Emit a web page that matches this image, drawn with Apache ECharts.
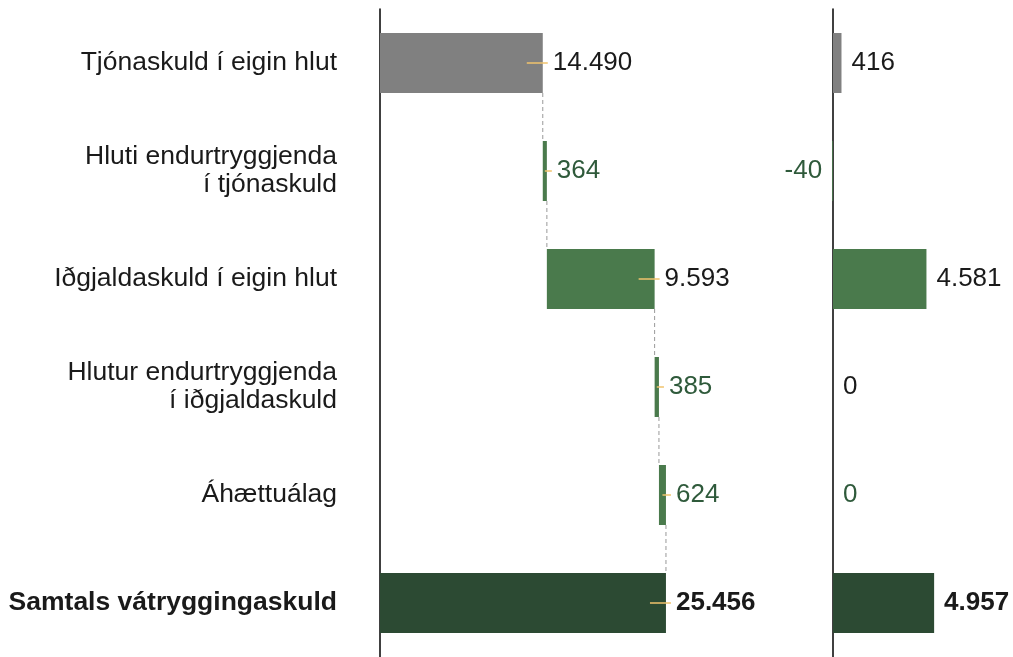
<!DOCTYPE html>
<html>
<head>
<meta charset="utf-8">
<script src="https://cdn.jsdelivr.net/npm/echarts@6/dist/echarts.min.js"></script>
<style>
  html, body { margin: 0; padding: 0; background: #fff; }
  #chart { width: 1013px; height: 657px; }
</style>
</head>
<body>
<div id="chart"></div>
<script>
// data
var categories = [
  'Tjónaskuld í eigin hlut',
  'Hluti endurtryggjenda\ní tjónaskuld',
  'Iðgjaldaskuld í eigin hlut',
  'Hlutur endurtryggjenda\ní iðgjaldaskuld',
  'Áhættuálag',
  'Samtals vátryggingaskuld'
];
var leftValues = [14490, 364, 9593, 385, 624, 25456];
var rightValues = [416, -40, 4581, 0, 0, 4957];

// styles
var barColors = ['#808080', '#4a7a4c', '#4a7a4c', '#4a7a4c', '#4a7a4c', '#2c4a33'];
var leftLabelColors = ['#1a1a1a', '#2f5a3b', '#1a1a1a', '#2f5a3b', '#2f5a3b', '#1a1a1a'];
var rightLabelColors = ['#1a1a1a', '#2f5a3b', '#1a1a1a', '#1a1a1a', '#2f5a3b', '#1a1a1a'];
var FONT = '"Liberation Sans", Arial, sans-serif';

function fmt(v) {
  return String(v).replace(/\B(?=(\d{3})+(?!\d))/g, '.');
}

// waterfall bases (last row is the total, from 0)
var bases = [], ends = [];
var run = 0;
leftValues.forEach(function (v, i) {
  if (i === leftValues.length - 1) {
    bases.push(0);
    ends.push(v);
  } else {
    bases.push(run);
    run += v;
    ends.push(run);
  }
});

var last = categories.length - 1;

var chart = echarts.init(document.getElementById('chart'));

var option = {
  animation: false,
  textStyle: { fontFamily: FONT },
  grid: [
    { left: 380, top: 9, width: 337, height: 652 },
    { left: 833, top: 9, width: 102, height: 652 }
  ],
  xAxis: [
    { gridIndex: 0, type: 'value', min: 0, max: 30000, show: false },
    { gridIndex: 1, type: 'value', min: 0, max: 5000, show: false }
  ],
  yAxis: [
    {
      gridIndex: 0, type: 'category', inverse: true, data: categories,
      axisLine: { show: true, lineStyle: { color: '#000', width: 1.5 } },
      axisTick: { show: false },
      axisLabel: {
        margin: 43,
        fontSize: 26.5,
        lineHeight: 28,
        color: '#1a1a1a',
        fontFamily: FONT,
        align: 'right',
        formatter: function (val, idx) {
          if (idx === last) return '{b|' + val + '}';
          return val;
        },
        rich: { b: { fontWeight: 'bold', fontSize: 26.5, color: '#1a1a1a', fontFamily: FONT } }
      }
    },
    {
      gridIndex: 1, type: 'category', inverse: true, data: categories,
      axisLine: { show: true, lineStyle: { color: '#000', width: 1.5 } },
      axisTick: { show: false },
      axisLabel: { show: false }
    }
  ],
  series: [
    {
      name: 'base', type: 'bar', stack: 'wf', xAxisIndex: 0, yAxisIndex: 0,
      barWidth: 60, silent: true,
      itemStyle: { color: 'transparent' },
      data: bases
    },
    {
      name: 'left', type: 'bar', stack: 'wf', xAxisIndex: 0, yAxisIndex: 0,
      barWidth: 60,
      data: leftValues.map(function (v, i) {
        return {
          value: v,
          itemStyle: { color: barColors[i] },
          label: { color: leftLabelColors[i], fontWeight: i === last ? 'bold' : 'normal' }
        };
      }),
      label: {
        show: true, position: 'right', distance: 10, fontSize: 26, fontFamily: FONT,
        formatter: function (p) { return fmt(leftValues[p.dataIndex]); }
      }
    },
    {
      // little orange ticks at the end of each bar
      name: 'ticks', type: 'custom', xAxisIndex: 0, yAxisIndex: 0, z: 5,
      data: leftValues.map(function (v, i) { return [bases[i], ends[i], i]; }),
      renderItem: function (params, api) {
        var s = api.coord([api.value(0), api.value(2)]);
        var e = api.coord([api.value(1), api.value(2)]);
        var x0 = Math.max((s[0] + e[0]) / 2, e[0] - 16);
        return {
          type: 'line',
          shape: { x1: x0, y1: e[1], x2: e[0] + 5, y2: e[1] },
          style: { stroke: '#f0c36d', lineWidth: 1.5 }
        };
      }
    },
    {
      // dashed connectors
      name: 'conn', type: 'custom', xAxisIndex: 0, yAxisIndex: 0, z: 1,
      data: ends.slice(0, last).map(function (e, i) { return [e, i]; }),
      renderItem: function (params, api) {
        var a = api.coord([api.value(0), api.value(1)]);
        var b = api.coord([api.value(0), api.value(1) + 1]);
        return {
          type: 'line',
          shape: { x1: a[0], y1: a[1] + 30, x2: b[0], y2: b[1] - 30 },
          style: { stroke: '#999', lineWidth: 1, lineDash: [4, 3] }
        };
      }
    },
    {
      name: 'right', type: 'bar', xAxisIndex: 1, yAxisIndex: 1,
      barWidth: 60, clip: false,
      data: rightValues.map(function (v, i) {
        return {
          value: v,
          itemStyle: { color: barColors[i] },
          label: {
            color: rightLabelColors[i],
            fontWeight: i === last ? 'bold' : 'normal',
            position: v < 0 ? 'left' : 'right'
          }
        };
      }),
      label: {
        show: true, distance: 10, fontSize: 26, fontFamily: FONT,
        formatter: function (p) { return fmt(rightValues[p.dataIndex]); }
      }
    }
  ]
};

chart.setOption(option);
</script>
</body>
</html>
